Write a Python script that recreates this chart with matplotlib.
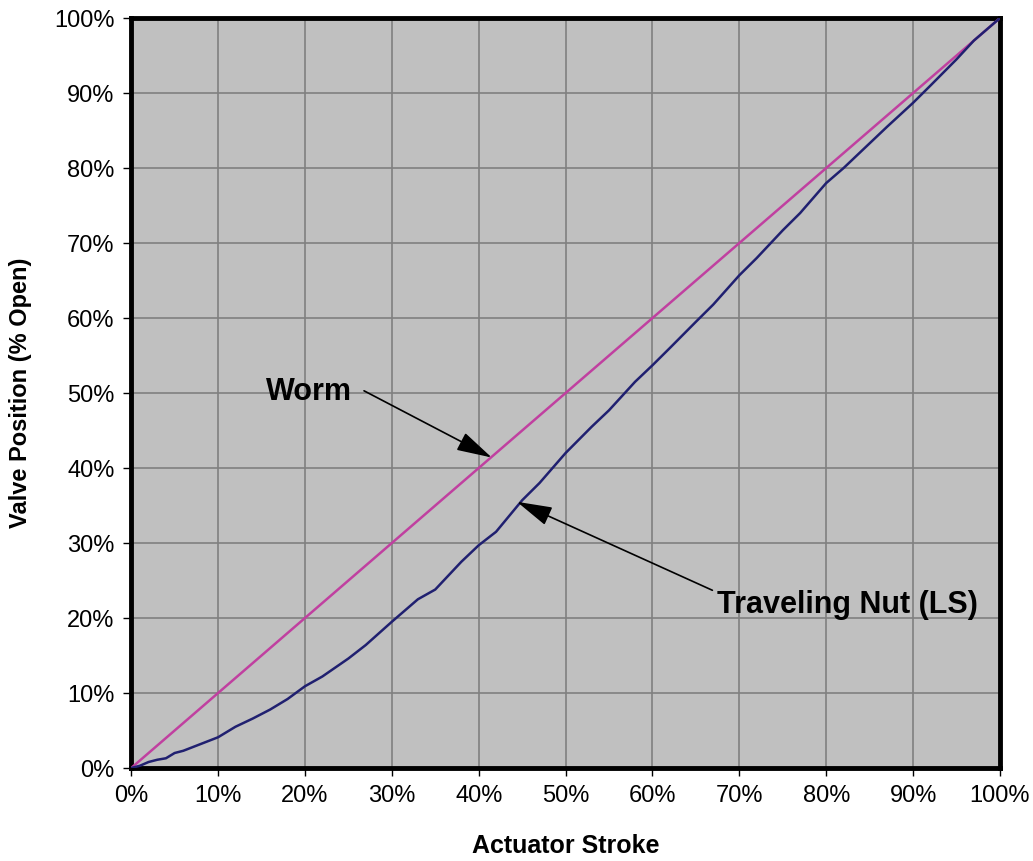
import matplotlib
matplotlib.use('Agg')
import matplotlib.pyplot as plt
from matplotlib.ticker import FuncFormatter, MultipleLocator

plt.rcParams['font.family'] = ['Liberation Sans', 'DejaVu Sans']

# actuator stroke (%) and valve position (%)
stroke = [0, 1, 2, 3, 4, 5, 6, 8, 10, 12, 14, 16, 18, 20, 22, 25, 27, 30, 33, 35,
          38, 40, 42, 45, 47, 50, 53, 55, 58, 60, 62, 65, 67, 70, 72, 75, 77, 80,
          82, 85, 87, 90, 92, 95, 97, 100]
nut = [0, 0.3, 0.8, 1.1, 1.3, 2.0, 2.3, 3.2, 4.1, 5.5, 6.6, 7.8, 9.2, 10.9, 12.2,
       14.6, 16.4, 19.5, 22.5, 23.8, 27.5, 29.7, 31.5, 35.7, 38.0, 42.0, 45.5, 47.7,
       51.5, 53.7, 56.0, 59.5, 61.8, 65.7, 68.0, 71.7, 74.0, 78.0, 80.0, 83.3, 85.5,
       88.7, 91.0, 94.5, 97.0, 100]
worm_x = [0, 100]
worm_y = [0, 100]

fig = plt.figure(figsize=(10.33, 8.61), dpi=100)
ax = fig.add_axes([0.127, 0.108, 0.841, 0.871])
ax.set_facecolor('#C0C0C0')

ax.plot(worm_x, worm_y, color='#C040A0', lw=1.8, zorder=3)
ax.plot(stroke, nut, color='#202070', lw=1.8, zorder=3)

ax.set_xlim(0, 100)
ax.set_ylim(0, 100)
ax.xaxis.set_major_locator(MultipleLocator(10))
ax.yaxis.set_major_locator(MultipleLocator(10))
pct = FuncFormatter(lambda v, p: '%d%%' % v)
ax.xaxis.set_major_formatter(pct)
ax.yaxis.set_major_formatter(pct)
ax.grid(True, color='#808080', lw=1.2)
ax.set_axisbelow(True)
for s in ax.spines.values():
    s.set_linewidth(3.5)
    s.set_color('black')
ax.tick_params(direction='out', length=6, width=1, labelsize=17, pad=6)

ax.set_xlabel('Actuator Stroke', fontsize=18, fontweight='bold', labelpad=20)
ax.set_ylabel('Valve Position (% Open)', fontsize=17, fontweight='bold', labelpad=16)

arrow = dict(arrowstyle='-|>,head_length=2.2,head_width=0.6', color='black', lw=1.2,
             shrinkA=0, shrinkB=0, mutation_scale=10)
ax.annotate('', xy=(41.5, 41.4), xytext=(26.8, 50.3), arrowprops=arrow)
ax.text(25.4, 50.2, 'Worm', fontsize=22, fontweight='bold', ha='right', va='center')
ax.annotate('', xy=(44.4, 35.5), xytext=(66.9, 23.7), arrowprops=arrow)
ax.text(67.4, 21.8, 'Traveling Nut (LS)', fontsize=22, fontweight='bold',
        ha='left', va='center')

fig.savefig('out.png', dpi=100)
